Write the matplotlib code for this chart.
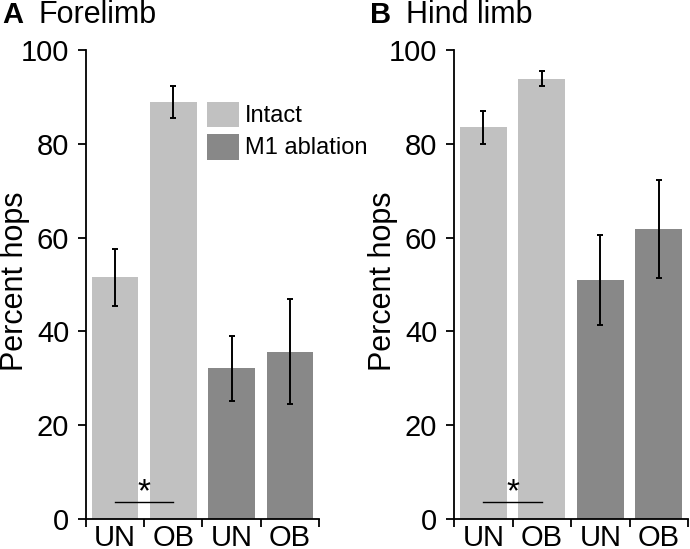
import matplotlib
matplotlib.use("Agg")
import matplotlib.pyplot as plt
from matplotlib.patches import Patch

plt.rcParams['font.family'] = ['Liberation Sans', 'DejaVu Sans']

categories = ['UN', 'OB', 'UN', 'OB']
groups = ['Intact', 'Intact', 'M1 ablation', 'M1 ablation']

fore_means = [51.5, 88.9, 32.1, 35.7]
fore_err = [6.0, 3.4, 7.0, 11.2]

hind_means = [83.5, 93.9, 51.0, 61.8]
hind_err = [3.6, 1.6, 9.6, 10.4]

colors = {'Intact': '#c1c1c1', 'M1 ablation': '#888888'}

fig = plt.figure(figsize=(6.9, 5.49), dpi=100)
axA = fig.add_axes([0.1246, 0.0546, 0.3377, 0.8543])
axB = fig.add_axes([0.658, 0.0546, 0.3391, 0.8543])


def draw_panel(ax, means, errs):
    xs = [i + 0.5 for i in range(len(means))]
    ax.bar(xs, means, width=0.8, color=[colors[g] for g in groups], zorder=1)
    ax.errorbar(xs, means, yerr=errs, fmt='none', ecolor='black',
                elinewidth=1.4, capsize=2, capthick=1.4, zorder=3)
    ax.set_xlim(0, 4)
    ax.set_ylim(0, 100)
    ax.spines['top'].set_visible(False)
    ax.spines['right'].set_visible(False)
    ax.spines['left'].set_linewidth(1.3)
    ax.spines['bottom'].set_linewidth(1.3)
    ax.set_xticks([0, 1, 2, 3, 4])
    ax.set_xticklabels([])
    ax.set_xticks(xs, minor=True)
    ax.set_xticklabels(categories, minor=True, fontsize=21)
    ax.tick_params(axis='x', which='major', direction='out', length=6, width=1.3)
    ax.tick_params(axis='x', which='minor', length=0, pad=3.5)
    ax.set_yticks([0, 20, 40, 60, 80, 100])
    ax.tick_params(axis='y', direction='out', length=6, width=1.3, labelsize=21, pad=6)
    ax.set_ylabel('Percent hops', fontsize=22)
    ax.yaxis.set_label_coords(-0.24, 0.507)
    # significance marker between UN and OB (intact)
    ax.plot([0.5, 1.5], [3.6, 3.6], color='black', lw=1.0, zorder=4)
    ax.text(1.0, 5.6, '*', ha='center', va='center', fontsize=24, zorder=4)


draw_panel(axA, fore_means, fore_err)
draw_panel(axB, hind_means, hind_err)

fig.text(0.003, 0.958, 'A', fontsize=21, fontweight='bold', va='baseline')
fig.text(0.056, 0.958, 'Forelimb', fontsize=22, va='baseline')
fig.text(0.536, 0.958, 'B', fontsize=21, fontweight='bold', va='baseline')
fig.text(0.589, 0.958, 'Hind limb', fontsize=22, va='baseline')

handles = [Patch(facecolor=colors['Intact']), Patch(facecolor=colors['M1 ablation'])]
axA.legend(handles, ['Intact', 'M1 ablation'], loc='upper left',
           bbox_to_anchor=(0.519, 0.89), frameon=False, fontsize=17,
           handlelength=1.36, handleheight=1.31, handletextpad=0.25,
           labelspacing=0.26, borderaxespad=0, borderpad=0)

fig.savefig('out.png', dpi=100)
